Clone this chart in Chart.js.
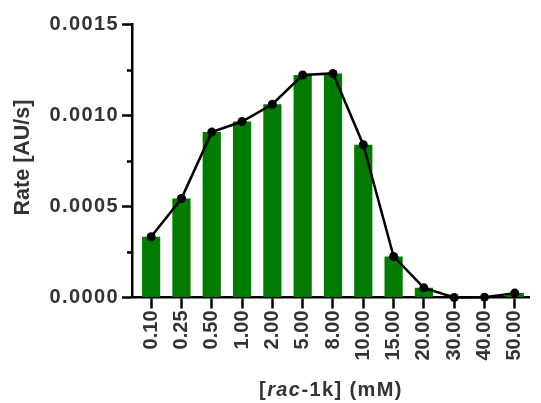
<!DOCTYPE html>
<html>
<head>
<meta charset="utf-8">
<script src="https://cdn.jsdelivr.net/npm/chart.js@4/dist/chart.umd.min.js"></script>
<style>
  html, body { margin: 0; padding: 0; background: #ffffff; }
  #wrap { width: 541px; height: 403px; }
</style>
</head>
<body>
<div id="wrap"><canvas id="c" width="541" height="403"></canvas></div>
<script>
// Substrate concentrations (mM) and measured rates (AU/s)
const concentrations = ['0.10', '0.25', '0.50', '1.00', '2.00', '5.00', '8.00', '10.00', '15.00', '20.00', '30.00', '40.00', '50.00'];
const rates = [0.000333, 0.000543, 0.000907, 0.000965, 0.00106, 0.00122, 0.001229, 0.000838, 0.000225, 0.000053, 0.0, 0.000002, 0.000024];

// Axis ticks
const yTickValues = [0, 0.0005, 0.0010, 0.0015];
const yTickLabels = ['0.0000', '0.0005', '0.0010', '0.0015'];
const yMinorTicks = [0.00025, 0.00075, 0.00125];

// Axis titles
const yTitle = 'Rate [AU/s]';
const xTitleParts = [
  { text: '[', italic: false },
  { text: 'rac', italic: true },
  { text: '-1k] (mM)', italic: false }
];

const FAMILY = '"Liberation Sans", Arial, Helvetica, sans-serif';
const TEXT = '#333333';
const BAR_GREEN = '#007b00';
const WIDE = '1.4px';   // tracking used for horizontal text

const points = rates.map((v, i) => ({ x: i, y: v }));

// Tracking for the value-axis labels (drawn before the datasets layer);
// the category labels sit on a later layer and are drawn without it
const tracking = {
  id: 'tracking',
  beforeDraw(chart) { chart.ctx.letterSpacing = WIDE; },
  beforeDatasetsDraw(chart) { chart.ctx.letterSpacing = '0px'; }
};

// Short minor ticks on the value axis and both axis titles
const extras = {
  id: 'extras',
  afterDraw(chart) {
    const { ctx, chartArea, scales } = chart;
    const y = scales.y;
    ctx.save();
    ctx.letterSpacing = '0px';
    ctx.strokeStyle = '#000000';
    ctx.lineWidth = 2.5;
    yMinorTicks.forEach(v => {
      const py = Math.round(y.getPixelForValue(v)) + 0.5;
      ctx.beginPath();
      ctx.moveTo(chartArea.left - 5, py);
      ctx.lineTo(chartArea.left, py);
      ctx.stroke();
    });

    // y title, rotated
    ctx.fillStyle = TEXT;
    ctx.save();
    ctx.translate(28.5, 157.5);
    ctx.rotate(-Math.PI / 2);
    ctx.font = 'bold 21.5px ' + FAMILY;
    ctx.textAlign = 'center';
    ctx.textBaseline = 'alphabetic';
    ctx.fillText(yTitle, 0, 0);
    ctx.restore();

    // x title with italic segment
    ctx.letterSpacing = WIDE;
    ctx.textBaseline = 'alphabetic';
    ctx.textAlign = 'left';
    const fonts = xTitleParts.map(p => (p.italic ? 'italic ' : '') + 'bold 20px ' + FAMILY);
    const widths = xTitleParts.map((p, i) => { ctx.font = fonts[i]; return ctx.measureText(p.text).width; });
    const total = widths.reduce((a, b) => a + b, 0);
    let x = (chartArea.left + chartArea.right) / 2 - total / 2;
    xTitleParts.forEach((p, i) => {
      ctx.font = fonts[i];
      ctx.fillText(p.text, x, 396);
      x += widths[i];
    });
    ctx.restore();
  }
};

new Chart(document.getElementById('c'), {
  type: 'bar',
  data: {
    datasets: [
      {
        type: 'line',
        data: points,
        borderColor: '#000000',
        borderWidth: 2.5,
        backgroundColor: '#000000',
        pointRadius: 4.5,
        pointBorderWidth: 0,
        pointBackgroundColor: '#000000',
        tension: 0,
        clip: false,
        order: 0
      },
      {
        type: 'bar',
        data: points,
        backgroundColor: BAR_GREEN,
        borderWidth: 0,
        barPercentage: 0.6,
        categoryPercentage: 1.0,
        order: 1
      }
    ]
  },
  options: {
    responsive: false,
    animation: false,
    devicePixelRatio: 1,
    layout: { padding: { top: 24, left: 0, right: 0, bottom: 0 } },
    plugins: { legend: { display: false }, tooltip: { enabled: false } },
    scales: {
      x: {
        type: 'linear',
        min: -0.632,
        max: 12.5,
        offset: false,
        grid: { drawOnChartArea: false, offset: false, drawTicks: true, tickLength: 11, tickWidth: 2.5, tickColor: '#000000' },
        border: { display: true, color: '#000000', width: 2.5 },
        afterBuildTicks: s => { s.ticks = concentrations.map((_, i) => ({ value: i })); },
        afterFit: s => { s.height = 105.5; },
        ticks: {
          z: 1,
          autoSkip: false,
          minRotation: 90,
          maxRotation: 90,
          padding: 2,
          color: TEXT,
          font: { family: FAMILY, size: 20, weight: 'bold' },
          callback: v => concentrations[v]
        },
        title: { display: false }
      },
      y: {
        min: 0,
        max: 0.0015,
        grid: { drawOnChartArea: false, drawTicks: true, tickLength: 10, tickWidth: 2.5, tickColor: '#000000' },
        border: { display: true, color: '#000000', width: 2.5 },
        afterBuildTicks: s => { s.ticks = yTickValues.map(v => ({ value: v })); },
        afterFit: s => { s.width = 132; },
        ticks: {
          padding: 3,
          color: TEXT,
          font: { family: FAMILY, size: 20, weight: 'bold' },
          callback: (v, i) => yTickLabels[i]
        },
        title: { display: false }
      }
    }
  },
  plugins: [tracking, extras]
});
</script>
</body>
</html>
